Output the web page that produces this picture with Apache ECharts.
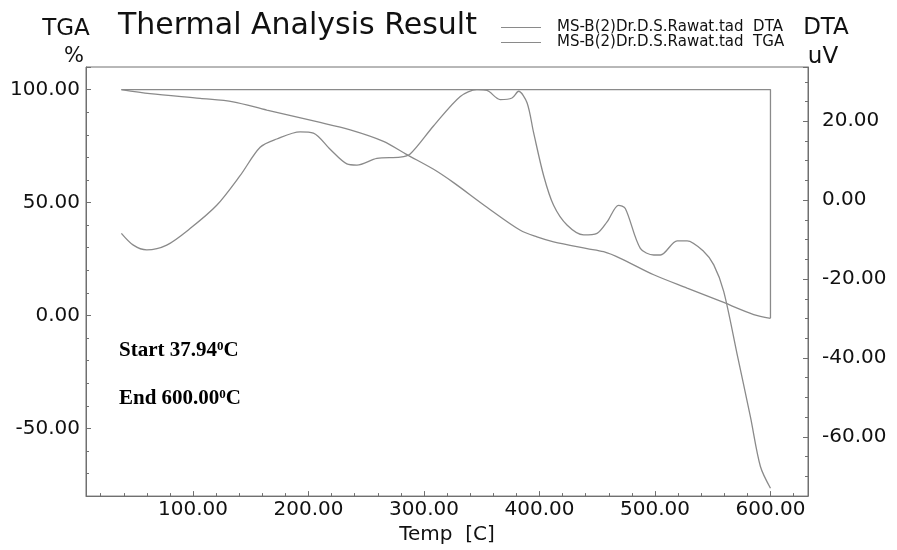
<!DOCTYPE html>
<html><head><meta charset="utf-8">
<script src="https://cdn.jsdelivr.net/npm/echarts@6/dist/echarts.min.js"></script>
<style>html,body{margin:0;padding:0;background:#fff}#c{width:897px;height:550px}</style>
</head><body><div id="c"></div>
<script>
// ---- data ----
const tgaTemp  = [37.94, 62.7, 106.1, 134.7, 163.9, 207.2, 236.1, 264.9, 285.2, 308.3, 325.6, 354.5, 383.4, 397.8, 412.2, 441.2, 455.5, 470.0, 498.9, 527.8, 556.7, 585.5, 600.0];
const tgaValue = [100.0, 98.2, 96.1, 94.6, 90.9, 85.8, 82.2, 77.1, 71.2, 64.7, 58.8, 47.9, 37.7, 34.8, 32.6, 29.6, 28.2, 25.3, 18.0, 12.1, 6.3, 0.4, -1.3];

const dtaTemp  = [37.94, 48.3, 59.9, 77.2, 97.4, 120.5, 140.7, 158.1, 172.5, 192.7, 204.2, 218.7, 233.2, 241.9, 259.2, 279.4, 288.0, 308.2, 331.4, 345.8, 354.5, 366.0, 376.2, 381.9, 389.2, 394.9, 403.6, 412.2, 423.8, 438.2, 449.8, 458.5, 468.5, 474.3, 487.3, 498.9, 504.7, 519.2, 527.8, 542.2, 550.9, 559.5, 571.1, 582.7, 591.3, 600.0];
const dtaValue = [-8.4, -11.4, -12.6, -11.4, -7.2, -1.3, 6.2, 13.4, 15.5, 17.3, 17.0, 12.9, 9.2, 8.9, 10.6, 10.9, 11.7, 18.8, 26.3, 28.0, 27.8, 25.5, 25.9, 27.6, 24.7, 17.1, 6.2, -1.3, -6.3, -8.8, -8.4, -5.5, -1.3, -2.1, -12.2, -13.9, -13.9, -10.3, -10.3, -13.0, -16.4, -23.1, -39.0, -55.0, -67.5, -73.0];

const seriesNames = ['MS-B(2)Dr.D.S.Rawat.tad  DTA', 'MS-B(2)Dr.D.S.Rawat.tad  TGA'];
const titleText = 'Thermal Analysis Result';
const xAxisName = 'Temp  [C]';
const leftAxisTitle = ['TGA', '%'];
const rightAxisTitle = ['DTA', 'uV'];
const startTemp = '37.94';
const endTemp = '600.00';

// ---- build ----
const zip = (a, b) => a.map((v, i) => [v, b[i]]);
const tgaData = zip(tgaTemp, tgaValue);
const dtaData = zip(dtaTemp, dtaValue);
const last = tgaTemp.length - 1;
const tgaFrame = [[tgaTemp[0], tgaValue[0]], [tgaTemp[last], tgaValue[0]], [tgaTemp[last], tgaValue[last]]];

const TXT = '#111111';
const AX = '#707070';
const LINE = '#8a8a8a';
const FONT = '"DejaVu Sans", sans-serif';

function fmt(step) {
  return v => (Math.abs(v / step - Math.round(v / step)) < 1e-6 ? v.toFixed(2) : '');
}
function yAx(pos, min, max, split, minorSplit, margin, step) {
  return {
    type: 'value', position: pos, min: min, max: max, splitNumber: split,
    axisLine: { show: true, onZero: false, lineStyle: { color: AX, width: 1 } },
    axisTick: { show: true, inside: true, length: 5, lineStyle: { color: AX } },
    minorTick: { show: true, splitNumber: minorSplit, length: 3, lineStyle: { color: AX } },
    splitLine: { show: false }, minorSplitLine: { show: false },
    axisLabel: { show: true, color: TXT, fontFamily: FONT, fontSize: 20, margin: margin,
      showMinLabel: false, showMaxLabel: false, formatter: fmt(step) }
  };
}

const serifRich = {
  a: { fontFamily: '"Liberation Serif", serif', fontWeight: 'bold', fontSize: 21, color: TXT, lineHeight: 22 },
  s: { fontFamily: '"Liberation Serif", serif', fontWeight: 'bold', fontSize: 13, color: TXT, lineHeight: 22, verticalAlign: 'top', padding: [0, 0, 8, 0] }
};

const chart = echarts.init(document.getElementById('c'), null, { renderer: 'canvas' });
chart.setOption({
  animation: false,
  backgroundColor: '#ffffff',
  grid: { left: 86, right: 89, top: 67, bottom: 50, show: true, borderColor: AX, borderWidth: 1, backgroundColor: 'transparent' },
  legend: {
    data: seriesNames, orient: 'vertical', left: 496, top: 15,
    itemWidth: 40, itemHeight: 6, itemGap: 0,
    textStyle: { fontFamily: FONT, fontSize: 15, color: TXT, lineHeight: 10.5, padding: [0, 0, 0, 11] },
    icon: 'path://M0,0L40,0L40,1L0,1Z'
  },
  xAxis: {
    type: 'value', min: 7.3, max: 632.5, splitNumber: 5,
    name: xAxisName, nameLocation: 'middle', nameGap: 27,
    nameTextStyle: { fontFamily: FONT, fontSize: 20, color: TXT },
    axisLine: { show: true, onZero: false, lineStyle: { color: AX, width: 1 } },
    axisTick: { show: true, inside: true, length: 5, lineStyle: { color: AX } },
    minorTick: { show: true, splitNumber: 5, length: 3, lineStyle: { color: AX } },
    splitLine: { show: false },
    axisLabel: { color: TXT, fontFamily: FONT, fontSize: 20, margin: 4, showMinLabel: false, showMaxLabel: false, formatter: fmt(100) }
  },
  yAxis: [
    yAx('left', -80, 110, 4, 5, 6, 50),
    yAx('right', -75, 33.75, 5, 4, 14, 20)
  ],
  series: [
    { name: seriesNames[0], type: 'line', yAxisIndex: 1, data: dtaData, showSymbol: false, symbol: 'none', smooth: 0.3,
      lineStyle: { color: LINE, width: 1.3 }, itemStyle: { color: LINE } },
    { name: seriesNames[1], type: 'line', yAxisIndex: 0, data: tgaData, showSymbol: false, symbol: 'none', smooth: 0.3,
      lineStyle: { color: LINE, width: 1.3 }, itemStyle: { color: LINE } },
    { name: 'frame', type: 'line', yAxisIndex: 0, data: tgaFrame, showSymbol: false, symbol: 'none',
      lineStyle: { color: LINE, width: 1.3 }, silent: true }
  ],
  graphic: [
    { type: 'text', style: { x: 118, y: 26, text: titleText, font: '30px ' + FONT, fill: TXT, verticalAlign: 'middle' } },
    { type: 'text', style: { x: 66, y: 29, text: leftAxisTitle[0], font: '23px ' + FONT, fill: TXT, align: 'center', verticalAlign: 'middle' } },
    { type: 'text', style: { x: 74, y: 57, text: leftAxisTitle[1], font: '21px ' + FONT, fill: TXT, align: 'center', verticalAlign: 'middle' } },
    { type: 'text', style: { x: 826, y: 28, text: rightAxisTitle[0], font: '23px ' + FONT, fill: TXT, align: 'center', verticalAlign: 'middle' } },
    { type: 'text', style: { x: 823, y: 57, text: rightAxisTitle[1], font: '23px ' + FONT, fill: TXT, align: 'center', verticalAlign: 'middle' } },
    { type: 'text', style: { x: 119, y: 351, verticalAlign: 'middle',
        text: '{a|Start ' + startTemp + '}{s|0}{a|C}', rich: serifRich } },
    { type: 'text', style: { x: 119, y: 399, verticalAlign: 'middle',
        text: '{a|End ' + endTemp + '}{s|0}{a|C}', rich: serifRich } }
  ]
});
</script>
</body></html>
